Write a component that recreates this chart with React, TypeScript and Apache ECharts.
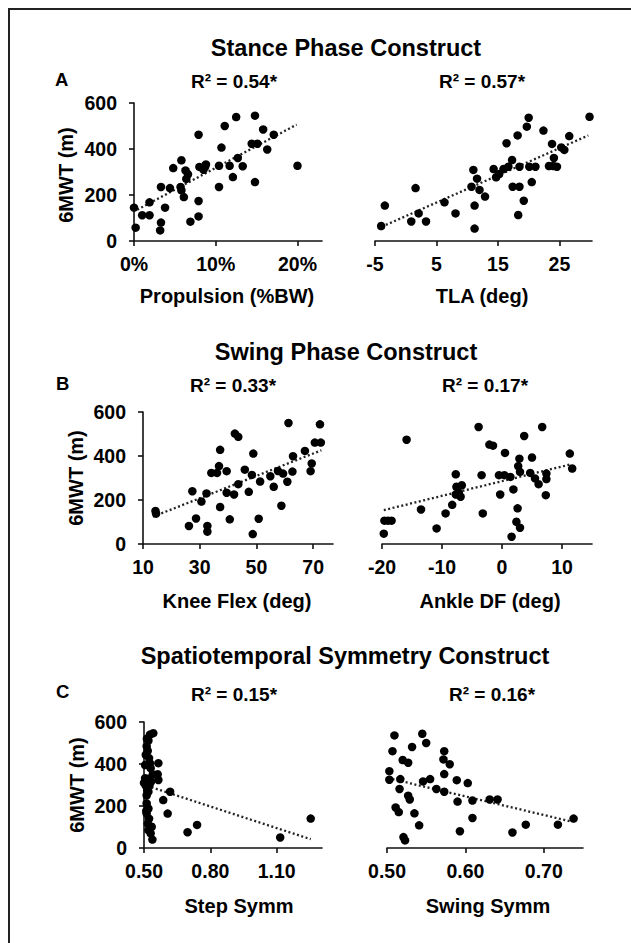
import React, { useEffect, useRef } from "react";
import * as echarts from "echarts";

// ---------- data ----------
const propulsion: [number, number][] = [
  [0, 145], [0.2, 58], [1, 112], [1.9, 112], [1.9, 168], [3.3, 235], [3.3, 80], [3.2, 46], [3.8, 145],
  [4.4, 230], [4.8, 317], [5.8, 351], [5.7, 235], [5.8, 220], [6.3, 307], [6.6, 290], [6.4, 270], [6.1, 191],
  [6.9, 84], [7.9, 462], [7.9, 174], [7.9, 107], [8.0, 322], [8.7, 322], [8.8, 333], [8.5, 310], [10.4, 235],
  [10.4, 327], [10.7, 406], [11.1, 500], [11.7, 327], [12.1, 278], [12.7, 361], [12.5, 539], [13.3, 325],
  [14.8, 256], [14.8, 545], [14.4, 423], [15.1, 423], [15.8, 485], [16.3, 398], [17.1, 462], [20, 327],
];
const tla: [number, number][] = [
  [-4.0, 65], [-3.4, 154], [1.6, 230], [0.9, 85], [2.1, 120], [3.3, 85], [6.3, 168], [8.1, 120], [11.0, 309],
  [10.7, 236], [11.6, 271], [12.0, 222], [11.2, 154], [11.2, 54], [12.9, 193], [14.3, 313], [14.7, 277],
  [15.2, 291], [15.9, 313], [16.4, 425], [16.7, 323], [17.3, 352], [17.4, 236], [18.5, 236], [18.2, 459],
  [18.5, 323], [18.3, 113], [19.2, 175], [19.7, 497], [20.0, 536], [20.1, 323], [20.5, 256], [21.1, 323],
  [22.4, 480], [23.8, 422], [23.3, 326], [24.1, 361], [24.0, 326], [24.6, 323], [25.3, 407], [25.8, 396],
  [26.6, 456], [29.9, 540],
];
const kneeFlex: [number, number][] = [
  [14.4, 150], [14.6, 138], [26.2, 82], [27.4, 240], [28.7, 116], [30.6, 193], [32.4, 230], [32.7, 82],
  [32.7, 56], [34.1, 323], [36.1, 323], [36.8, 354], [37.2, 428], [37.2, 168], [39.5, 331], [39.5, 233],
  [40.6, 112], [42.1, 225], [42.4, 502], [43.6, 487], [43.6, 272], [45.9, 338], [47.3, 237], [48.4, 314],
  [48.9, 411], [48.7, 45], [50.8, 115], [51.3, 284], [54.9, 308], [56.1, 260], [57.6, 332], [58.8, 174],
  [59.4, 320], [60.9, 283], [61.3, 550], [62.7, 329], [62.9, 399], [67.1, 423], [69.1, 331], [69.5, 366],
  [70.6, 461], [72.7, 461], [72.4, 544],
];
const ankleDF: [number, number][] = [
  [-19.7, 47], [-19.6, 106], [-19.0, 106], [-18.4, 106], [-15.9, 474], [-13.5, 157], [-10.9, 71], [-9.4, 139],
  [-8.3, 178], [-7.7, 317], [-7.6, 260], [-7.7, 225], [-6.7, 267], [-6.9, 215], [-7.2, 233], [-3.9, 532],
  [-3.4, 313], [-3.2, 139], [-2.1, 452], [-1.5, 447], [-0.5, 313], [-0.3, 225], [0.4, 313], [0.5, 414],
  [1.4, 305], [1.9, 248], [1.6, 33], [2.6, 162], [2.4, 101], [3.0, 74], [2.9, 388], [2.7, 354], [3.0, 328],
  [3.7, 491], [5.0, 393], [4.7, 323], [5.5, 298], [6.1, 272], [6.7, 532], [7.3, 222], [7.4, 320], [7.4, 295],
  [11.3, 411], [11.7, 343],
];
const stepSymm: [number, number][] = [
  [0.542, 547], [0.527, 540], [0.520, 511], [0.512, 484], [0.517, 463], [0.508, 444], [0.523, 428],
  [0.565, 404], [0.527, 404], [0.530, 380], [0.497, 364], [0.562, 351], [0.505, 332], [0.565, 324],
  [0.532, 316], [0.520, 330], [0.508, 297], [0.515, 275], [0.520, 268], [0.512, 250], [0.494, 228],
  [0.512, 212], [0.520, 188], [0.510, 176], [0.512, 164], [0.523, 140], [0.517, 116], [0.535, 101],
  [0.520, 85], [0.530, 70], [0.538, 40], [0.618, 268], [0.587, 228], [0.607, 164], [0.697, 75], [0.740, 110],
  [1.116, 50], [1.254, 140], [0.513, 520], [0.505, 395], [0.525, 300], [0.540, 350], [0.500, 310],
];
const swingSymm: [number, number][] = [
  [0.507, 461], [0.532, 481], [0.550, 500], [0.520, 419], [0.527, 406], [0.503, 366], [0.503, 325],
  [0.517, 328], [0.516, 281], [0.527, 249], [0.529, 231], [0.511, 193], [0.515, 171], [0.535, 165],
  [0.541, 108], [0.521, 52], [0.523, 36], [0.546, 317], [0.555, 328], [0.563, 281], [0.573, 461],
  [0.572, 422], [0.580, 399], [0.573, 352], [0.573, 268], [0.589, 323], [0.590, 221], [0.593, 80],
  [0.603, 309], [0.609, 226], [0.609, 143], [0.631, 231], [0.641, 231], [0.660, 74], [0.677, 111],
  [0.718, 111], [0.738, 140], [0.5095, 536], [0.545, 544],
];

// trend lines (start, end)
const trendPropulsion: [number, number][] = [[0.4, 136], [19.9, 506]];
const trendTla: [number, number][] = [[-3.9, 62], [29.7, 459]];
const trendKnee: [number, number][] = [[13.5, 124], [72.9, 426]];
const trendAnkle: [number, number][] = [[-19.7, 154], [11.3, 361]];
const trendStep: [number, number][] = [[0.534, 289], [1.254, 42]];
const trendSwing: [number, number][] = [[0.507, 328], [0.734, 127]];

const yTicks = [0, 200, 400, 600];
const propulsionTicks = [0, 10, 20];
const tlaTicks = [-5, 5, 15, 25];
const kneeTicks = [10, 30, 50, 70];
const ankleTicks = [-20, -10, 0, 10];
const stepTicks = [0.5, 0.8, 1.1];
const swingTicks = [0.5, 0.6, 0.7];

const constructTitles = ["Stance Phase Construct", "Swing Phase Construct", "Spatiotemporal Symmetry Construct"];
const panelLetters = ["A", "B", "C"];
const rSquared = ["R² = 0.54*", "R² = 0.57*", "R² = 0.33*", "R² = 0.17*", "R² = 0.15*", "R² = 0.16*"];
const xNames = ["Propulsion (%BW)", "TLA (deg)", "Knee Flex (deg)", "Ankle DF (deg)", "Step Symm", "Swing Symm"];
const yName = "6MWT (m)";

const FONT = '"Liberation Sans", Arial, Helvetica, sans-serif';
const INK = "#111";

export default function App() {
  const ref = useRef<HTMLDivElement>(null);
  useEffect(() => {
    if (!ref.current) return;
    const chart = echarts.init(ref.current, null, { renderer: "svg" });

    const panels = [
      { grid: { left: 134, top: 103, width: 188, height: 138 }, min: 0, max: 23, ticks: propulsionTicks, fmt: (v: number) => `${v}%`, data: propulsion, trend: trendPropulsion, showY: true },
      { grid: { left: 375, top: 103, width: 217, height: 138 }, min: -5, max: 30.3, ticks: tlaTicks, fmt: (v: number) => `${v}`, data: tla, trend: trendTla, showY: false },
      { grid: { left: 143, top: 412, width: 190, height: 132 }, min: 10, max: 77, ticks: kneeTicks, fmt: (v: number) => `${v}`, data: kneeFlex, trend: trendKnee, showY: true },
      { grid: { left: 382, top: 412, width: 210, height: 132 }, min: -20, max: 15, ticks: ankleTicks, fmt: (v: number) => `${v}`, data: ankleDF, trend: trendAnkle, showY: false },
      { grid: { left: 144, top: 722, width: 178, height: 126 }, min: 0.5, max: 1.305, ticks: stepTicks, fmt: (v: number) => v.toFixed(2), data: stepSymm, trend: trendStep, showY: true },
      { grid: { left: 387, top: 722, width: 196, height: 126 }, min: 0.5, max: 0.75, ticks: swingTicks, fmt: (v: number) => v.toFixed(2), data: swingSymm, trend: trendSwing, showY: false },
    ];

    const axisLine = { show: true, lineStyle: { color: INK, width: 1.6 } };
    const axisTickBase = { show: true, inside: false, length: 5, lineStyle: { color: INK, width: 1.6 } };
    const labelBase = { color: "#000", fontFamily: FONT, fontWeight: "bold" as const, fontSize: 19.5 };

    const grid = panels.map((p) => ({ ...p.grid, containLabel: false, outerBoundsMode: "none" }));
    const xAxis = panels.map((p, i) => ({
      type: "value",
      gridIndex: i,
      min: p.min,
      max: p.max,
      axisLine,
      axisTick: { ...axisTickBase, customValues: p.ticks },
      axisLabel: { ...labelBase, margin: 13, customValues: p.ticks, formatter: p.fmt },
      splitLine: { show: false },
    }));
    const yAxis = panels.map((p, i) => ({
      type: "value",
      gridIndex: i,
      min: 0,
      max: 600,
      interval: 200,
      show: p.showY,
      axisLine,
      axisTick: { ...axisTickBase, customValues: yTicks },
      axisLabel: { ...labelBase, margin: 17, customValues: yTicks },
      splitLine: { show: false },
    }));
    const series: any[] = [];
    panels.forEach((p, i) => {
      series.push({
        type: "scatter",
        xAxisIndex: i,
        yAxisIndex: i,
        data: p.data,
        symbol: "circle",
        symbolSize: 8.5,
        itemStyle: { color: "#000", opacity: 1 },
        z: 3,
      });
      series.push({
        type: "line",
        xAxisIndex: i,
        yAxisIndex: i,
        data: p.trend,
        symbol: "none",
        lineStyle: { color: "#222", width: 2.3, type: [2, 2.5] },
        z: 2,
      });
    });

    const txt = (text: string, x: number, y: number, size: number, align = "center", rotation = 0) => ({
      type: "text",
      x,
      y,
      rotation,
      style: {
        text,
        fill: "#000",
        font: `bold ${size}px ${FONT}`,
        align,
        verticalAlign: "middle",
      },
    });

    const graphic: any[] = [
      { type: "line", shape: { x1: 9, y1: 8, x2: 9, y2: 943 }, style: { stroke: "#222", lineWidth: 2 } },
      { type: "line", shape: { x1: 8, y1: 9, x2: 631, y2: 9 }, style: { stroke: "#222", lineWidth: 2 } },
      txt(constructTitles[0], 346, 48, 23.5),
      txt(constructTitles[1], 346, 352, 23.5),
      txt(constructTitles[2], 345, 656, 23.5),
      txt(panelLetters[0], 55, 79, 18.5, "left"),
      txt(panelLetters[1], 56, 383, 18.5, "left"),
      txt(panelLetters[2], 56, 691, 18.5, "left"),
      txt(rSquared[0], 234, 81, 19),
      txt(rSquared[1], 482, 81, 19),
      txt(rSquared[2], 233, 385, 19),
      txt(rSquared[3], 485, 385, 19),
      txt(rSquared[4], 234, 694, 19),
      txt(rSquared[5], 492, 694, 19),
      txt(xNames[0], 227, 296, 20),
      txt(xNames[1], 482, 296, 20),
      txt(xNames[2], 237, 601, 20),
      txt(xNames[3], 490, 601, 20),
      txt(xNames[4], 239, 906, 20),
      txt(xNames[5], 488, 906, 20),
      txt(yName, 66, 175, 20, "center", Math.PI / 2),
      txt(yName, 76, 478, 20, "center", Math.PI / 2),
      txt(yName, 77, 785, 20, "center", Math.PI / 2),
    ];

    chart.setOption({
      animation: false,
      backgroundColor: "#fff",
      grid,
      xAxis,
      yAxis,
      series,
      graphic,
    } as any);
    return () => chart.dispose();
  }, []);
  return (
    <div
      ref={ref}
      style={{ position: "absolute", left: 0, top: 0, width: 631, height: 943, background: "#fff" }}
    />
  );
}
